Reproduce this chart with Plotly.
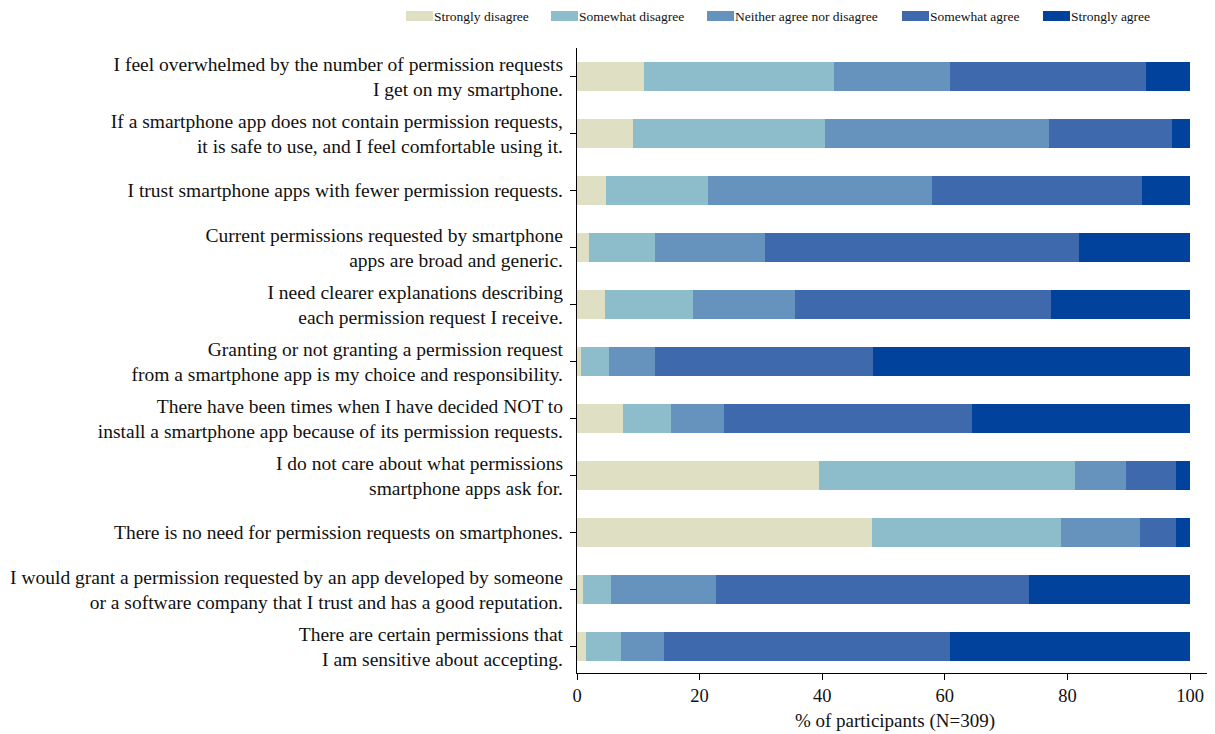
import plotly.graph_objects as go

statements = [
    "I feel overwhelmed by the number of permission requests<br>I get on my smartphone.",
    "If a smartphone app does not contain permission requests,<br>it is safe to use, and I feel comfortable using it.",
    "I trust smartphone apps with fewer permission requests.",
    "Current permissions requested by smartphone<br>apps are broad and generic.",
    "I need clearer explanations describing<br>each permission request I receive.",
    "Granting or not granting a permission request<br>from a smartphone app is my choice and responsibility.",
    "There have been times when I have decided NOT to<br>install a smartphone app because of its permission requests.",
    "I do not care about what permissions<br>smartphone apps ask for.",
    "There is no need for permission requests on smartphones.",
    "I would grant a permission requested by an app developed by someone<br>or a software company that I trust and has a good reputation.",
    "There are certain permissions that<br>I am sensitive about accepting.",
]

strongly_disagree = [10.9, 9.1, 4.8, 1.9, 4.5, 0.6, 7.5, 39.4, 48.1, 0.9, 1.5]
somewhat_disagree = [31.1, 31.3, 16.5, 10.8, 14.5, 4.6, 7.9, 41.9, 30.9, 4.6, 5.6]
neither = [18.8, 36.6, 36.6, 17.9, 16.5, 7.5, 8.5, 8.3, 12.9, 17.1, 7.1]
somewhat_agree = [32.0, 20.0, 34.3, 51.3, 41.8, 35.6, 40.5, 8.1, 5.8, 51.1, 46.6]
strongly_agree = [7.2, 3.0, 7.8, 18.1, 22.7, 51.7, 35.6, 2.3, 2.3, 26.3, 39.2]

series_names = ["Strongly disagree", "Somewhat disagree", "Neither agree nor disagree",
                "Somewhat agree", "Strongly agree"]
series_values = [strongly_disagree, somewhat_disagree, neither, somewhat_agree, strongly_agree]
colors = ["#dfe0c3", "#8dbccb", "#6692be", "#3e69ad", "#01429d"]

FONT = "Liberation Serif"

# layout geometry (pixels in figure coordinates)
W, H = 1215, 734
ML, MR, MT, MB = 569, 10, 40, 69
PW, PH = W - ML - MR, H - MT - MB

def px_x(px):
    return (px - ML) / PW

def px_y(py):
    return 1 + (MT - py) / PH

fig = go.Figure()
for name, vals, col in zip(series_names, series_values, colors):
    fig.add_trace(go.Bar(
        y=statements, x=vals, name=name, orientation="h",
        marker=dict(color=col, line=dict(width=0)),
        width=0.51, showlegend=False,
    ))

# custom legend: wide swatches with labels
legend_swatch_x = [398, 543, 699, 894, 1035]
shapes = []
annotations = []
for name, col, sx in zip(series_names, colors, legend_swatch_x):
    shapes.append(dict(type="rect", xref="paper", yref="paper",
                       x0=px_x(sx), x1=px_x(sx + 27), y0=px_y(13), y1=px_y(3),
                       fillcolor=col, line=dict(width=0)))
    annotations.append(dict(x=px_x(sx + 27), y=px_y(8), xref="paper", yref="paper",
                            text=name, showarrow=False, xanchor="left", yanchor="middle",
                            xshift=-1, font=dict(family=FONT, size=13.5, color="#111111")))

fig.update_layout(
    barmode="stack",
    width=W, height=H,
    paper_bgcolor="white", plot_bgcolor="white",
    margin=dict(l=ML, r=MR, t=MT, b=MB, autoexpand=False),
    font=dict(family=FONT, color="#111111", size=19),
    showlegend=False,
    shapes=shapes,
    annotations=annotations,
    xaxis=dict(range=[0, 103.75], tickvals=[0, 20, 40, 60, 80, 100],
               showline=True, linecolor="black", linewidth=1.2,
               ticks="outside", ticklen=6, tickcolor="black",
               showgrid=False, zeroline=False,
               tickfont=dict(size=18.5, family=FONT),
               title=dict(text="% of participants (N=309)", font=dict(size=19, family=FONT),
                          standoff=8)),
    yaxis=dict(categoryorder="array", categoryarray=statements,
               range=[10.465, -0.5],
               showline=True, linecolor="black", linewidth=1.2,
               ticks="outside", ticklen=6, tickcolor="black",
               ticklabelstandoff=3,
               showgrid=False, zeroline=False,
               tickfont=dict(size=19.5, family=FONT)),
)

fig.write_html("out.html")
